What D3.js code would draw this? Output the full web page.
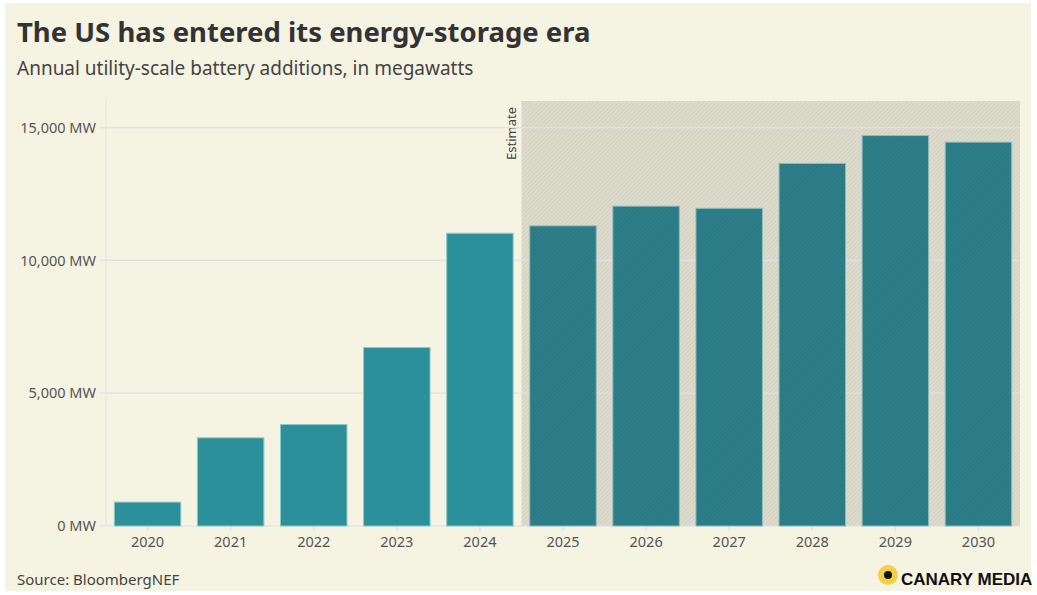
<!DOCTYPE html>
<html>
<head>
<meta charset="utf-8">
<script src="https://cdn.jsdelivr.net/npm/d3@7"></script>
<style>
  body { margin: 0; background: #ffffff; }
  #chart { position: absolute; left: 0; top: 0; }
</style>
</head>
<body>
<div id="chart"></div>
<script>
// data
const years = ["2020", "2021", "2022", "2023", "2024", "2025", "2026", "2027", "2028", "2029", "2030"];
const megawatts = [900, 3320, 3820, 6720, 11020, 11300, 12040, 11960, 13650, 14700, 14450];
const estimateYears = ["2025", "2026", "2027", "2028", "2029", "2030"];
const yTicks = [0, 5000, 10000, 15000];

const W = 1037, H = 595;
const margin = { top: 101, right: 17, bottom: 69, left: 106 };
const width = W - margin.left - margin.right,
      height = H - margin.top - margin.bottom;
const font = "'Noto Sans', 'Open Sans', sans-serif";

const root = d3.select("#chart")
    .append("svg")
    .attr("width", W)
    .attr("height", H)
    .style("font-family", font);

// cream card
root.append("rect")
    .attr("x", 5).attr("y", 3)
    .attr("width", 1026).attr("height", 588)
    .attr("fill", "#f5f3e1");

// hatch patterns for the estimate area
const defs = root.append("defs");
const hatch = defs.append("pattern")
    .attr("id", "hatch")
    .attr("patternUnits", "userSpaceOnUse")
    .attr("width", 3).attr("height", 3)
    .attr("patternTransform", "rotate(45)");
hatch.append("rect").attr("width", 3).attr("height", 3).attr("fill", "#dddbcc");
hatch.append("line").attr("x1", 0).attr("y1", 0).attr("x2", 0).attr("y2", 3)
    .attr("stroke", "#c9c7b8").attr("stroke-width", 1);

const barHatch = defs.append("pattern")
    .attr("id", "barHatch")
    .attr("patternUnits", "userSpaceOnUse")
    .attr("width", 3).attr("height", 3)
    .attr("patternTransform", "rotate(45)");
barHatch.append("rect").attr("width", 3).attr("height", 3).attr("fill", "#2c7e88");
barHatch.append("line").attr("x1", 0).attr("y1", 0).attr("x2", 0).attr("y2", 3)
    .attr("stroke", "#2a747d").attr("stroke-width", 1);

// titles
root.append("text")
    .attr("x", 17).attr("y", 42)
    .attr("font-size", 27.5).attr("font-weight", 700)
    .attr("fill", "#333333")
    .text("The US has entered its energy-storage era");

root.append("text")
    .attr("x", 17).attr("y", 75)
    .attr("font-size", 19)
    .attr("fill", "#444444")
    .text("Annual utility-scale battery additions, in megawatts");

const svg = root.append("g")
    .attr("transform", `translate(${margin.left},${margin.top})`);

const x = d3.scaleBand()
    .domain(years)
    .range([0, width])
    .paddingInner(0.2)
    .paddingOuter(0.1);

const y = d3.scaleLinear()
    .domain([0, 16000])
    .range([height, 0]);

// estimate shading
const estStart = x(estimateYears[0]) - x.step() * x.paddingInner() / 2;
svg.append("rect")
    .attr("x", estStart)
    .attr("y", 0)
    .attr("width", width - estStart)
    .attr("height", height)
    .attr("fill", "url(#hatch)");

svg.append("text")
    .attr("transform", `translate(${estStart - 5},6) rotate(-90)`)
    .attr("text-anchor", "end")
    .attr("font-size", 13)
    .attr("fill", "#444444")
    .text("Estimate");

// gridlines
svg.append("g")
    .selectAll("line")
    .data(yTicks)
    .join("line")
    .attr("x1", -6).attr("x2", width)
    .attr("y1", d => y(d)).attr("y2", d => y(d))
    .attr("stroke", "#e2e0e6")
    .attr("stroke-width", 1.2);

svg.append("line")
    .attr("x1", 0).attr("x2", 0)
    .attr("y1", 0).attr("y2", height)
    .attr("stroke", "#e6e4e2")
    .attr("stroke-width", 1.2);

// y axis labels
const yAxis = svg.append("g")
    .call(d3.axisLeft(y).tickValues(yTicks).tickSize(0).tickPadding(10)
        .tickFormat(d => d3.format(",")(d) + " MW"));
yAxis.select(".domain").remove();
yAxis.selectAll("text")
    .attr("font-size", 14.5)
    .attr("fill", "#555555")
    .style("font-family", font);

// x axis
const xAxis = svg.append("g")
    .attr("transform", `translate(0,${height})`)
    .call(d3.axisBottom(x).tickSize(5).tickPadding(6));
xAxis.select(".domain").remove();
xAxis.selectAll(".tick line").attr("stroke", "#e2e0e6").attr("stroke-width", 1.2);
xAxis.selectAll("text")
    .attr("font-size", 14.5)
    .attr("fill", "#555555")
    .style("font-family", font);

// bars
const rows = years.map((yr, i) => ({ year: yr, value: megawatts[i], est: estimateYears.includes(yr) }));
svg.selectAll(".bar")
    .data(rows)
    .join("rect")
    .attr("class", "bar")
    .attr("x", d => x(d.year))
    .attr("y", d => y(d.value))
    .attr("width", x.bandwidth())
    .attr("height", d => height - y(d.value))
    .attr("fill", d => d.est ? "url(#barHatch)" : "#2c909a")
    .attr("stroke", d => d.est ? "#8fbcbc" : "#8ccaca")
    .attr("stroke-width", 1);

// source
root.append("text")
    .attr("x", 17).attr("y", 585)
    .attr("font-size", 15)
    .attr("fill", "#444444")
    .text("Source: BloombergNEF");

// logo
root.append("circle").attr("cx", 888).attr("cy", 575).attr("r", 10).attr("fill", "#f3cf45");
root.append("circle").attr("cx", 888).attr("cy", 575).attr("r", 4).attr("fill", "#111111");
root.append("text")
    .attr("x", 901).attr("y", 585)
    .attr("font-size", 17).attr("font-weight", 800)
    .attr("fill", "#111111")
    .style("font-family", "'Liberation Sans', Arial, sans-serif")
    .text("CANARY MEDIA");
</script>
</body>
</html>
